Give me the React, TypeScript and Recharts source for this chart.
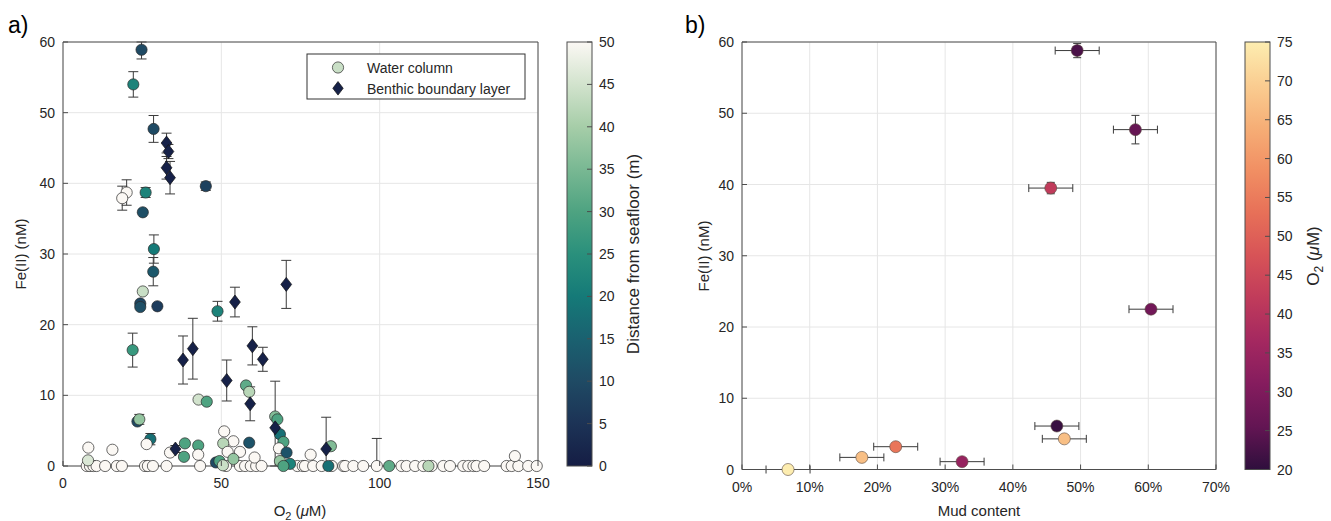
import { ScatterChart, Scatter, XAxis, YAxis, CartesianGrid, ErrorBar } from 'recharts';

const FONT = '"Liberation Sans", Arial, Helvetica, sans-serif';
const TXT = '#262626';
const AXIS = '#4d4d4d';
const GRID = '#e6e6e6';

// ---- panel a: Fe(II) vs O2, coloured by distance from seafloor ----
// water column samples
const wcO2 = [
  7.5, 8.5, 9.6, 10.6, 13.3, 17.0, 18.6, 25.9, 26.8, 28.4, 32.7, 43.3, 51.5, 55.9, 57.5, 59.3, 61.0, 62.7,
  74.0, 75.7, 76.4, 79.0, 81.7, 84.9, 88.5, 89.1, 91.7, 94.8, 99.1, 106.9, 108.5, 111.2, 113.8, 116.4,
  120.1, 122.2, 126.4, 128.0, 129.6, 130.6, 133.0, 140.1, 141.7, 143.8, 146.9, 149.6,
  8.0, 15.6, 7.9, 33.8, 38.5, 42.7, 38.2, 42.7, 50.9, 53.8, 50.6, 55.9, 52.0, 53.8, 48.3, 49.4, 50.5, 60.5,
  78.2, 84.6, 142.7, 83.8, 103.0, 115.4,
  24.8, 22.2, 28.6, 45.1, 20.1, 18.7, 26.1, 25.2, 28.7, 28.5, 25.2, 24.4, 24.4, 29.8, 22.0, 48.8, 42.8, 45.4,
  57.8, 58.8, 23.5, 24.1, 27.6, 26.4, 58.8, 67.0, 67.7, 68.5, 69.6, 68.2, 70.6, 68.5, 71.7, 69.6,
];
const wcFe = [
  0, 0, 0, 0, 0, 0, 0, 0, 0, 0, 0, 0, 0, 0, 0, 0, 0, 0,
  0, 0, 0, 0, 0, 0, 0, 0, 0, 0, 0, 0, 0, 0, 0, 0,
  0, 0, 0, 0, 0, 0, 0, 0, 0, 0, 0, 0,
  2.6, 2.3, 0.8, 1.9, 3.2, 2.9, 1.3, 1.6, 4.9, 3.5, 3.2, 2.0, 2.0, 1.0, 0.5, 0.7, 0.1, 1.2,
  1.6, 2.8, 1.4, 0, 0, 0,
  58.9, 54.0, 47.7, 39.6, 38.7, 37.9, 38.7, 35.9, 30.7, 27.5, 24.7, 23.0, 22.5, 22.6, 16.4, 21.9, 9.4, 9.1,
  11.4, 10.5, 6.3, 6.6, 3.8, 3.1, 3.3, 7.0, 6.6, 4.5, 3.4, 2.5, 1.9, 0.7, 0.3, 0,
];
const wcDist = [
  50, 50, 50, 50, 50, 50, 50, 50, 50, 50, 50, 50, 50, 50, 50, 50, 50, 50,
  50, 50, 50, 50, 50, 50, 50, 50, 50, 50, 50, 50, 50, 50, 50, 50,
  50, 50, 50, 50, 50, 50, 50, 50, 50, 50, 50, 50,
  50, 50, 46, 50, 30, 30, 30, 50, 50, 50, 42, 50, 50, 38, 10, 30, 44, 50,
  50, 36, 50, 18, 32, 42,
  10, 22, 10, 8, 50, 50, 22, 11, 20, 13, 44, 9, 11, 7, 27, 22, 45, 30,
  32, 42, 10, 38, 18, 50, 12, 36, 30, 18, 30, 50, 12, 38, 22, 30,
];
const wcErr = [
  0, 0, 0, 0, 0, 0, 0, 0, 0, 0, 0, 0, 0, 0, 0, 0, 0, 0,
  0, 0, 0, 0, 0, 0, 0, 0, 0, 0, 3.9, 0, 0, 0, 0, 0,
  0, 0, 0, 0, 0, 0, 0, 0, 0, 0, 0, 0,
  0, 0, 0, 0, 0, 0, 0, 0, 0, 0, 0, 0, 0, 0, 0, 0, 0, 0,
  0, 0, 0, 0, 0, 0,
  1.3, 1.8, 1.9, 0.6, 1.8, 1.7, 0.7, 0, 2.0, 2.0, 0, 0, 0, 0, 2.4, 1.4, 0, 0,
  0, 0, 0, 0.7, 0.8, 0, 0, 0, 0, 0, 0, 0, 0, 0, 0, 0,
];
// benthic boundary layer samples
const bblO2 = [32.7, 33.3, 32.7, 33.8, 37.9, 41.0, 54.3, 51.7, 59.8, 63.1, 59.1, 70.5, 67.0, 35.5, 83.1];
const bblFe = [45.7, 44.5, 42.2, 40.8, 15.0, 16.6, 23.2, 12.1, 17.0, 15.1, 8.8, 25.7, 5.4, 2.4, 2.4];
const bblDist = [1, 1, 1, 1, 1, 1, 1, 1, 1, 1, 1, 1, 1, 1, 1];
const bblErr = [1.4, 1.0, 1.6, 2.3, 3.4, 4.3, 2.1, 2.9, 2.7, 1.7, 2.4, 3.4, 6.6, 0.5, 4.5];

const o2Ticks = [0, 50, 100, 150];
const feTicks = [0, 10, 20, 30, 40, 50, 60];
const distTicks = [0, 5, 10, 15, 20, 25, 30, 35, 40, 45, 50];

// ---- panel b: Fe(II) vs mud content, coloured by O2 ----
const mudPct = [49.5, 58.1, 45.6, 60.4, 46.5, 47.6, 22.7, 17.7, 32.5, 6.8];
const mudFe = [58.8, 47.7, 39.5, 22.5, 6.1, 4.3, 3.2, 1.7, 1.1, 0];
const mudO2 = [23, 26, 42, 28, 21, 67, 54, 67, 34, 75];
const mudPctErr = [3.25, 3.25, 3.25, 3.25, 3.25, 3.25, 3.25, 3.25, 3.25, 3.25];
const mudFeErr = [1.0, 2.0, 0.8, 0, 0, 0, 0, 0, 0, 0];

const mudTicks = [0, 10, 20, 30, 40, 50, 60, 70];
const o2cbTicks = [20, 25, 30, 35, 40, 45, 50, 55, 60, 65, 70, 75];

// colormaps (dark -> light)
const TEMPO = ['#151d44', '#1c3356', '#1f4a64', '#1a6170', '#157a78', '#2a907c', '#4ea381', '#79b893', '#a6cda8', '#d2e3cd', '#fbf8f4'];
const MATTER = ['#2f0f3d', '#631553', '#851c5e', '#a42860', '#c03b5b', '#d75357', '#e77058', '#f18f63', '#f6ae76', '#facd91', '#fdedb0'];

function hex(c: string) {
  return [1, 3, 5].map((i) => parseInt(c.slice(i, i + 2), 16));
}
function cmap(stops: string[], t: number) {
  const tt = Math.max(0, Math.min(1, t));
  const n = stops.length - 1;
  const i = Math.min(n - 1, Math.floor(tt * n));
  const f = tt * n - i;
  const a = hex(stops[i]);
  const b = hex(stops[i + 1]);
  const m = a.map((v, k) => Math.round(v + (b[k] - v) * f));
  return `rgb(${m[0]},${m[1]},${m[2]})`;
}
const distColor = (d: number) => cmap(TEMPO, d / 50);
const o2Color = (v: number) => cmap(MATTER, (v - 20) / 55);

// error bars are cut at the axes limits, like the original figure
const clipErr = (y: number, e: number, lo: number, hi: number) => (e ? [Math.min(e, y - lo), Math.min(e, hi - y)] : undefined);

const wcData = wcO2.map((x, i) => ({ x, y: wcFe[i], d: wcDist[i], e: clipErr(wcFe[i], wcErr[i], 0, 60) }));
const bblData = bblO2.map((x, i) => ({ x, y: bblFe[i], d: bblDist[i], e: clipErr(bblFe[i], bblErr[i], 0, 60) }));
const mudData = mudPct.map((x, i) => ({
  x,
  y: mudFe[i],
  o: mudO2[i],
  ex: clipErr(x, mudPctErr[i], 0, 70),
  ey: clipErr(mudFe[i], mudFeErr[i], 0, 60),
}));

// ---- axis ticks drawn MATLAB style (inward tick marks) ----
function BottomTick(p: any) {
  const fmt = p.suffix ? `${p.payload.value}${p.suffix}` : p.payload.value;
  return (
    <g>
      <line x1={p.x} x2={p.x} y1={p.y} y2={p.y - 5} stroke={AXIS} />
      <text x={p.x} y={p.y + 22} textAnchor="middle" fill={TXT} fontSize={14} fontFamily={FONT}>{fmt}</text>
    </g>
  );
}
function LeftTick(p: any) {
  return (
    <g>
      <line x1={p.x} x2={p.x + 5} y1={p.y} y2={p.y} stroke={AXIS} />
      <text x={p.x - 8} y={p.y + 5} textAnchor="end" fill={TXT} fontSize={14} fontFamily={FONT}>{p.payload.value}</text>
    </g>
  );
}
function TopTick(p: any) {
  return <line x1={p.x} x2={p.x} y1={p.y} y2={p.y + 5} stroke={AXIS} />;
}
function RightTick(p: any) {
  return <line x1={p.x} x2={p.x - 5} y1={p.y} y2={p.y} stroke={AXIS} />;
}

function WcDot(p: any) {
  return <circle cx={p.cx} cy={p.cy} r={5.6} fill={distColor(p.payload.d)} stroke="#2a2a2a" strokeWidth={0.7} />;
}
function BblDot(p: any) {
  const { cx, cy } = p;
  return (
    <polygon
      points={`${cx},${cy - 7} ${cx + 5.4},${cy} ${cx},${cy + 7} ${cx - 5.4},${cy}`}
      fill={distColor(p.payload.d)}
      stroke="#111"
      strokeWidth={0.7}
    />
  );
}
function MudDot(p: any) {
  return <circle cx={p.cx} cy={p.cy} r={6} fill={o2Color(p.payload.o)} stroke="#5a4a40" strokeWidth={0.6} />;
}

function Colorbar(props: { id: string; x: number; top: number; bottom: number; stops: string[]; ticks: number[]; min: number; max: number }) {
  const { id, x, top, bottom, stops, ticks, min, max } = props;
  const h = bottom - top;
  const yOf = (v: number) => bottom - ((v - min) / (max - min)) * h;
  return (
    <g>
      <defs>
        <linearGradient id={id} x1="0" y1="1" x2="0" y2="0">
          {stops.map((c, i) => (
            <stop key={i} offset={i / (stops.length - 1)} stopColor={c} />
          ))}
        </linearGradient>
      </defs>
      <rect x={x} y={top} width={25} height={h} fill={`url(#${id})`} stroke={AXIS} strokeWidth={1} />
      {ticks.map((t) => (
        <g key={t}>
          <line x1={x + 25} x2={x + 20} y1={yOf(t)} y2={yOf(t)} stroke={AXIS} />
          <text x={x + 32} y={yOf(t) + 5} fill={TXT} fontSize={14} fontFamily={FONT}>{t}</text>
        </g>
      ))}
    </g>
  );
}

function axesFor(domainX: number[], ticksX: number[], suffix?: string) {
  return [
    <XAxis key="xb" type="number" dataKey="x" domain={domainX} ticks={ticksX} interval={0} height={30} tickSize={0} tickMargin={0}
      tickLine={false} axisLine={{ stroke: AXIS }} tick={<BottomTick suffix={suffix} />} />,
    <XAxis key="xt" xAxisId="top" orientation="top" type="number" domain={domainX} ticks={ticksX} interval={0} height={2}
      tickSize={0} tickMargin={0} tickLine={false} axisLine={{ stroke: AXIS }} tick={<TopTick />} />,
    <YAxis key="yl" type="number" dataKey="y" domain={[0, 60]} ticks={feTicks} interval={0} width={40} tickSize={0} tickMargin={0}
      tickLine={false} axisLine={{ stroke: AXIS }} tick={<LeftTick />} />,
    <YAxis key="yr" yAxisId="right" orientation="right" type="number" domain={[0, 60]} ticks={feTicks} interval={0} width={2}
      tickSize={0} tickMargin={0} tickLine={false} axisLine={{ stroke: AXIS }} tick={<RightTick />} />,
  ];
}

export default function App() {
  return (
    <div style={{ position: 'fixed', left: 0, top: 0, width: 1331, height: 521, background: '#fff', overflow: 'hidden' }}>
      <div style={{ position: 'absolute', left: 0, top: 0 }}>
        <ScatterChart width={660} height={521} margin={{ top: 40, right: 120, bottom: 25, left: 23 }}>
          <CartesianGrid stroke={GRID} />
          {axesFor([0, 150], o2Ticks)}
          <Scatter name="Water column" data={wcData} shape={<WcDot />} isAnimationActive={false}>
            <ErrorBar dataKey="e" direction="y" width={5} stroke="#3a3a3a" strokeWidth={1} />
          </Scatter>
          <Scatter name="Benthic boundary layer" data={bblData} shape={<BblDot />} isAnimationActive={false}>
            <ErrorBar dataKey="e" direction="y" width={5} stroke="#3a3a3a" strokeWidth={1} />
          </Scatter>
        </ScatterChart>
      </div>
      <div style={{ position: 'absolute', left: 660, top: 0 }}>
        <ScatterChart width={671} height={521} margin={{ top: 40, right: 113, bottom: 21.5, left: 42 }}>
          <CartesianGrid stroke={GRID} />
          {axesFor([0, 70], mudTicks, '%')}
          <Scatter name="Sites" data={mudData} shape={<MudDot />} isAnimationActive={false}>
            <ErrorBar dataKey="ex" direction="x" width={4} stroke="#3a3a3a" strokeWidth={1} />
            <ErrorBar dataKey="ey" direction="y" width={4} stroke="#3a3a3a" strokeWidth={1} />
          </Scatter>
        </ScatterChart>
      </div>
      <svg width={1331} height={521} style={{ position: 'absolute', left: 0, top: 0, pointerEvents: 'none' }} fontFamily={FONT}>
        <text x={8} y={33} fontSize={23} fill="#000">a)</text>
        <text x={685} y={33} fontSize={23} fill="#000">b)</text>

        <text transform="translate(26,254) rotate(-90)" textAnchor="middle" fontSize={15} fill={TXT}>Fe(II) (nM)</text>
        <text x={300} y={516} textAnchor="middle" fontSize={15} fill={TXT}>
          O<tspan dy={4} fontSize={11}>2</tspan><tspan dy={-4}> (</tspan><tspan fontStyle="italic">μ</tspan>M)
        </text>
        <text transform="translate(709,256) rotate(-90)" textAnchor="middle" fontSize={15} fill={TXT}>Fe(II) (nM)</text>
        <text x={979} y={516} textAnchor="middle" fontSize={15} fill={TXT}>Mud content</text>

        <Colorbar id="tempo" x={567} top={42} bottom={466} stops={TEMPO} ticks={distTicks} min={0} max={50} />
        <text transform="translate(639,254) rotate(-90)" textAnchor="middle" fontSize={17} fill={TXT}>Distance from seafloor (m)</text>

        <Colorbar id="matter" x={1245} top={42} bottom={469.5} stops={MATTER} ticks={o2cbTicks} min={20} max={75} />
        <text transform="translate(1319,256) rotate(-90)" textAnchor="middle" fontSize={17} fill={TXT}>
          O<tspan dy={4} fontSize={12}>2</tspan><tspan dy={-4}> (</tspan><tspan fontStyle="italic">μ</tspan>M)
        </text>

        <g>
          <rect x={307} y={54} width={218} height={45} fill="#fff" stroke="#333" strokeWidth={1} />
          <circle cx={338} cy={67.5} r={5.6} fill={distColor(44)} stroke="#2a2a2a" strokeWidth={0.7} />
          <text x={367} y={72.5} fontSize={14} fill={TXT}>Water column</text>
          <polygon points="338,81.5 343.2,88.3 338,95.1 332.8,88.3" fill={distColor(1)} stroke="#111" strokeWidth={0.7} />
          <text x={367} y={93.5} fontSize={14} fill={TXT}>Benthic boundary layer</text>
        </g>
      </svg>
    </div>
  );
}
